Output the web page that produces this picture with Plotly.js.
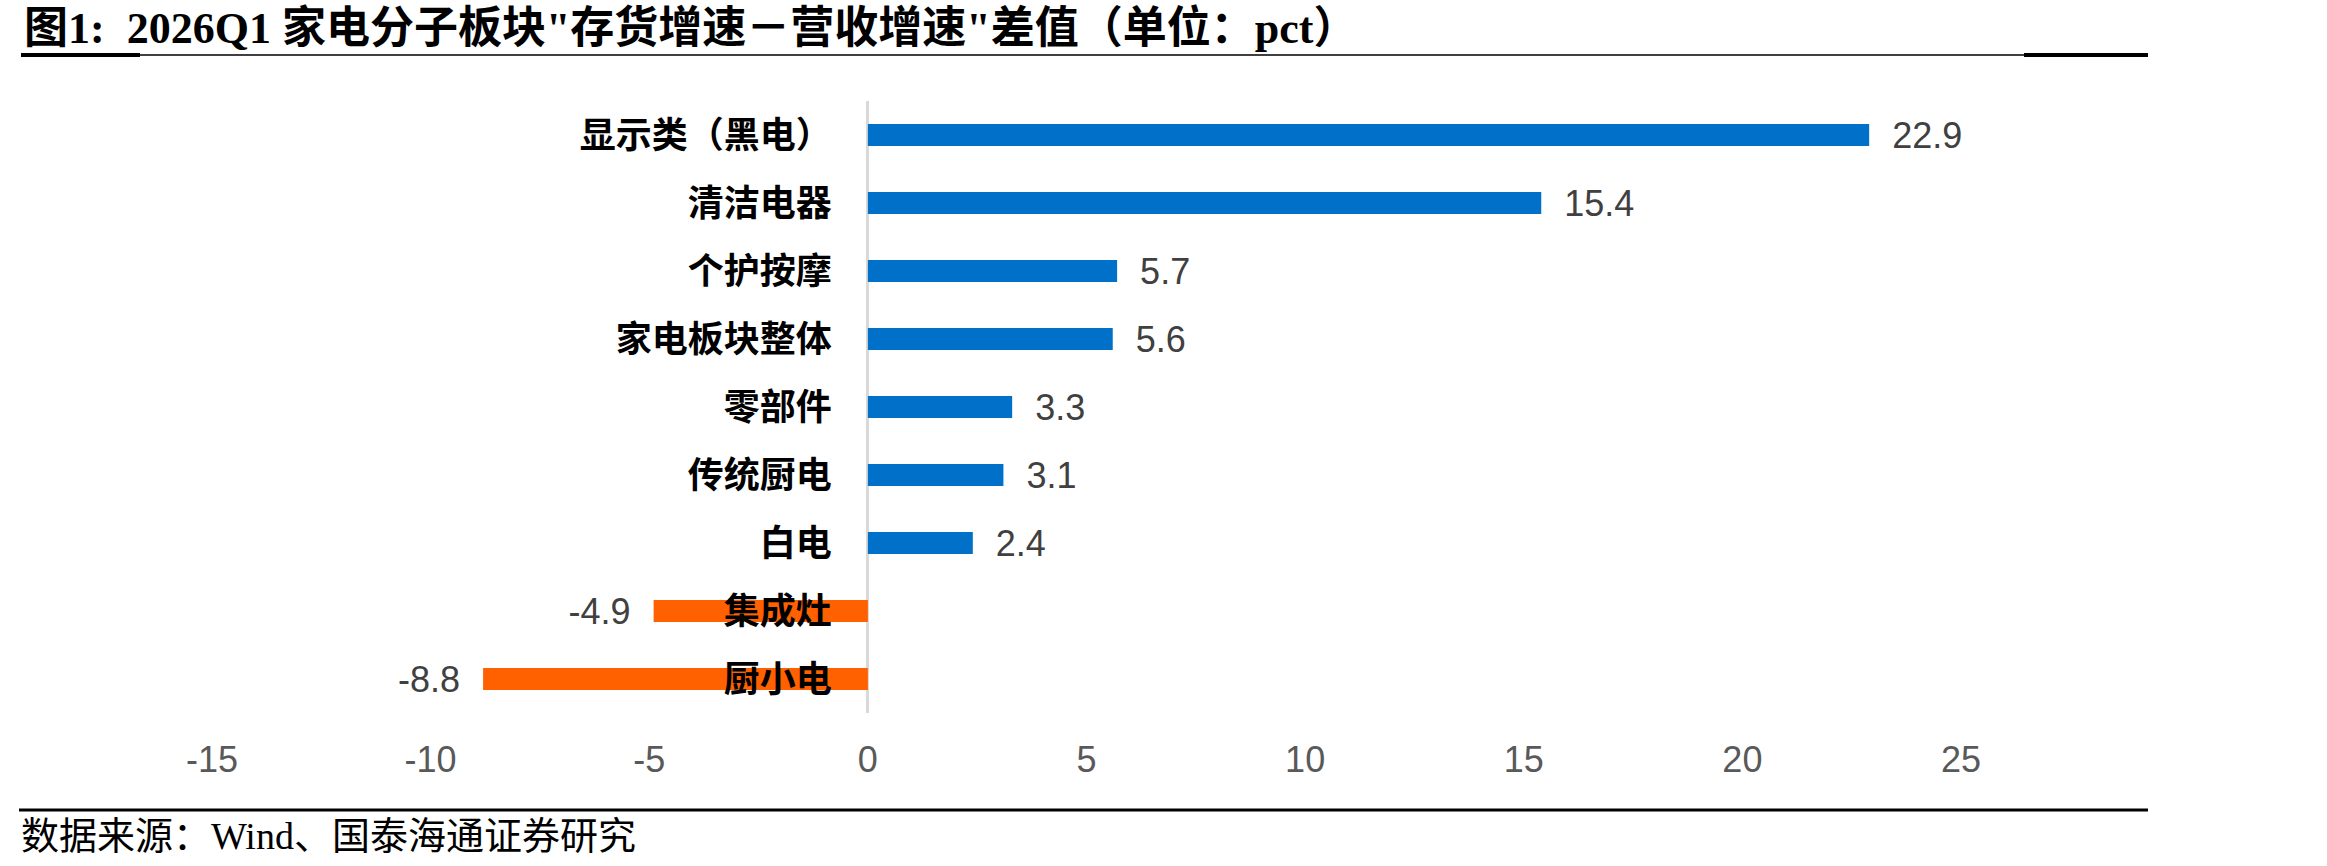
<!DOCTYPE html>
<html>
<head>
<meta charset="utf-8">
<script src="https://cdn.plot.ly/plotly-3.0.1.min.js"></script>
<style>
html,body{margin:0;padding:0;background:#fff;}
#chart{width:2327px;height:866px;}
</style>
</head>
<body>
<div id="chart"></div>
<script>
// ---- data ----
const categories = ['显示类（黑电）','清洁电器','个护按摩','家电板块整体','零部件','传统厨电','白电','集成灶','厨小电'];
const values = [22.9, 15.4, 5.7, 5.6, 3.3, 3.1, 2.4, -4.9, -8.8];
const tickValues = [-15, -10, -5, 0, 5, 10, 15, 20, 25];
const tickLabels = ['-15', '-10', '-5', '0', '5', '10', '15', '20', '25'];
const titleText = '图1:  2026Q1 家电分子板块"存货增速－营收增速"差值（单位：pct）';
const sourceText = '数据来源：Wind、国泰海通证券研究';

// ---- style ----
const POS_COLOR = '#0070C8';
const NEG_COLOR = '#FF6000';
const NB = '\u00a0\u00a0';

const W = 2327, H = 866;
const M = {l: 212, r: 366, t: 101, b: 153};
const plotW = W - M.l - M.r, plotH = H - M.t - M.b;
const px = x => (x - M.l) / plotW;          // page px -> paper x
const py = y => (H - M.b - y) / plotH;      // page px -> paper y

const trace = {
  type: 'bar',
  orientation: 'h',
  x: values,
  y: categories,
  marker: {color: values.map(v => v < 0 ? NEG_COLOR : POS_COLOR)},
  text: values.map(v => v < 0 ? v.toFixed(1) + NB : NB + v.toFixed(1)),
  textposition: 'outside',
  constraintext: 'none',
  cliponaxis: false,
  textfont: {family: 'Liberation Sans, Arial, sans-serif', size: 36, color: '#404040'},
  hoverinfo: 'skip'
};

const layout = {
  width: W, height: H,
  margin: M,
  paper_bgcolor: '#fff',
  plot_bgcolor: '#fff',
  showlegend: false,
  bargap: 0.68,
  title: {
    text: titleText,
    font: {family: 'Liberation Serif, Noto Sans CJK SC, serif', size: 44, color: '#000', weight: 'bold'},
    xref: 'container', yref: 'container',
    x: 24 / W, xanchor: 'left',
    y: 1 - 28 / H, yanchor: 'middle'
  },
  xaxis: {
    range: [-15, 25],
    tickmode: 'array',
    tickvals: tickValues,
    ticktext: tickLabels,
    showgrid: false,
    showline: false,
    zeroline: true,
    zerolinecolor: '#D9D9D9',
    zerolinewidth: 3,
    ticks: '',
    ticklabelstandoff: 22,
    tickfont: {family: 'Liberation Sans, Arial, sans-serif', size: 36, color: '#595959'},
    fixedrange: true
  },
  yaxis: {
    type: 'category',
    autorange: 'reversed',
    anchor: 'free',
    position: 15 / 40,
    showgrid: false,
    showline: false,
    zeroline: false,
    ticks: '',
    ticklabelstandoff: 36,
    tickfont: {family: 'Noto Sans CJK SC, sans-serif', size: 36, color: '#000', weight: 'bold'},
    fixedrange: true
  },
  shapes: [
    {type: 'line', xref: 'paper', yref: 'paper', x0: px(21), x1: px(2148), y0: py(55), y1: py(55), line: {color: '#000', width: 1.5}},
    {type: 'line', xref: 'paper', yref: 'paper', x0: px(21), x1: px(140), y0: py(55), y1: py(55), line: {color: '#000', width: 4}},
    {type: 'line', xref: 'paper', yref: 'paper', x0: px(2024), x1: px(2148), y0: py(55), y1: py(55), line: {color: '#000', width: 4}},
    {type: 'line', xref: 'paper', yref: 'paper', x0: px(19), x1: px(2148), y0: py(810), y1: py(810), line: {color: '#000', width: 3}}
  ],
  annotations: [
    {text: sourceText, xref: 'paper', yref: 'paper', x: px(19), y: py(836), xanchor: 'left', yanchor: 'middle', showarrow: false,
     font: {family: 'Liberation Serif, Noto Sans CJK SC, serif', size: 38, color: '#000'}}
  ]
};

Plotly.newPlot('chart', [trace], layout, {displayModeBar: false, staticPlot: true});
</script>
</body>
</html>
